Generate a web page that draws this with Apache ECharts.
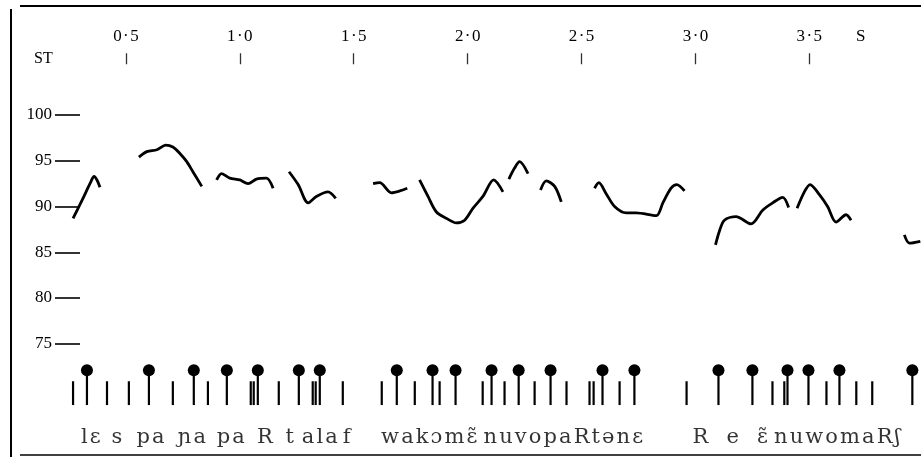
<!DOCTYPE html>
<html>
<head>
<meta charset="utf-8">
<script src="https://cdn.jsdelivr.net/npm/echarts@6.0.0/dist/echarts.min.js"></script>
<style>
  html, body { margin: 0; padding: 0; background: #fff; }
  #chart { width: 921px; height: 459px; }
</style>
</head>
<body>
<div id="chart"></div>
<script>
// pitch contour in semitones (ST) against time (s)
var timeTicks = [0.5, 1.0, 1.5, 2.0, 2.5, 3.0, 3.5];
var stTicks = [75, 80, 85, 90, 95, 100];

// contour pieces, [time, ST]
var seg1 = [[0.268, 88.7], [0.298, 90.2], [0.325, 91.6], [0.346, 92.7], [0.360, 93.3], [0.373, 92.9], [0.386, 92.1]];
var seg2 = [[0.557, 95.4], [0.592, 96.0], [0.636, 96.2], [0.675, 96.7], [0.706, 96.5], [0.737, 95.8], [0.767, 94.9], [0.794, 93.8], [0.833, 92.2]];
var seg3 = [[0.898, 92.9], [0.920, 93.6], [0.956, 93.1], [1.000, 92.9], [1.036, 92.5], [1.073, 93.0], [1.117, 93.1], [1.146, 92.0]];
var seg4 = [[1.216, 93.8], [1.256, 92.4], [1.300, 90.4], [1.336, 91.1], [1.387, 91.6], [1.421, 90.9]];
var seg5 = [[1.585, 92.5], [1.614, 92.6], [1.665, 91.5], [1.702, 91.7], [1.735, 92.0]];
var seg6 = [[1.789, 92.9], [1.826, 91.1], [1.863, 89.4], [1.907, 88.7], [1.950, 88.2], [1.987, 88.5], [2.023, 89.8], [2.067, 91.1], [2.114, 92.9], [2.155, 91.6]];
var seg7 = [[2.181, 93.0], [2.206, 94.2], [2.228, 94.9], [2.265, 93.6]];
var seg8 = [[2.320, 91.8], [2.345, 92.8], [2.382, 92.2], [2.411, 90.5]];
var seg9 = [[2.557, 92.0], [2.576, 92.6], [2.608, 91.4], [2.645, 90.0], [2.696, 89.3], [2.740, 89.3], [2.828, 89.0], [2.857, 90.4], [2.893, 92.0], [2.918, 92.4], [2.952, 91.7]];
var seg10 = [[3.088, 85.8], [3.105, 87.3], [3.127, 88.5], [3.178, 88.9], [3.244, 88.1], [3.295, 89.6], [3.339, 90.4], [3.383, 91.0], [3.409, 89.9]];
var seg11 = [[3.446, 89.8], [3.478, 91.6], [3.503, 92.4], [3.544, 91.3], [3.580, 90.0], [3.617, 88.3], [3.661, 89.1], [3.683, 88.5]];
var seg12 = [[3.917, 86.9], [3.939, 86.0], [3.987, 86.2]];

// segmentation marks: plain bars and bars with a dot
var barTimes = [0.268, 0.417, 0.513, 0.706, 0.860, 1.048, 1.061, 1.171, 1.320, 1.333, 1.452, 1.623, 1.768, 1.877,
  2.066, 2.162, 2.294, 2.434, 2.535, 2.553, 2.667, 2.961, 3.338, 3.390, 3.575, 3.706, 3.776];
var dotTimes = [0.329, 0.601, 0.798, 0.943, 1.079, 1.259, 1.351, 1.689, 1.846, 1.947,
  2.105, 2.224, 2.364, 2.592, 2.732, 3.101, 3.250, 3.404, 3.496, 3.632, 3.952];

// phonetic transcription, [time, text]
var phonetics = [[0.303, 'lɛ s'], [0.546, 'pa'], [0.728, 'ɲa pa'], [1.075, 'R'], [1.200, 't'], [1.272, 'ala'], [1.452, 'f'],
  [1.620, 'wakɔmɛ̃'], [2.070, 'nuvopaRtənɛ'],
  [2.987, 'R'], [3.136, 'e'], [3.270, 'ɛ̃'], [3.345, 'nuwomaRʃ']];

var BAR_BASE = 68.3, BAR_TOP = 70.9, DOT_LEVEL = 72.1, TEXT_LEVEL = 64.8;
var serif = "'Liberation Serif', 'DejaVu Serif', serif";
var ipaFont = "'DejaVu Serif', 'Liberation Serif', serif";

function spaced(s) {
  var out = '';
  Array.from(s).forEach(function (ch, i) {
    if (i > 0 && !/[\u0300-\u036f]/.test(ch)) out += '\u200a';
    out += ch;
  });
  return out;
}

function stemSeries(times, topLevel) {
  return {
    type: 'custom',
    silent: true,
    data: times.map(function (t) { return [t, topLevel]; }),
    renderItem: function (params, api) {
      var p1 = api.coord([api.value(0), topLevel]);
      var p2 = api.coord([api.value(0), BAR_BASE]);
      return {
        type: 'line',
        shape: { x1: p1[0], y1: p1[1], x2: p2[0], y2: p2[1] },
        style: { stroke: '#000', lineWidth: 2.2 }
      };
    }
  };
}

var series = [seg1, seg2, seg3, seg4, seg5, seg6, seg7, seg8, seg9, seg10, seg11, seg12].map(function (seg) {
  return {
    type: 'line',
    data: seg,
    symbol: 'none',
    smooth: 0.3,
    lineStyle: { color: '#000', width: 2.8 }
  };
});

series.push(stemSeries(barTimes, BAR_TOP));
series.push(stemSeries(dotTimes, DOT_LEVEL));
series.push({
  type: 'scatter',
  data: dotTimes.map(function (t) { return [t, DOT_LEVEL]; }),
  symbolSize: 12,
  itemStyle: { color: '#000', opacity: 1 }
});
series.push({
  type: 'scatter',
  data: phonetics.map(function (p) { return { value: [p[0], TEXT_LEVEL], name: p[1] }; }),
  symbolSize: 0,
  label: {
    show: true,
    position: 'right',
    distance: 0,
    formatter: function (p) { return spaced(p.name); },
    fontFamily: ipaFont,
    fontSize: 21,
    color: '#000'
  }
});

var chart = echarts.init(document.getElementById('chart'), null, { renderer: 'canvas' });

chart.setOption({
  backgroundColor: '#fff',
  animation: false,
  grid: { left: 12, right: 0, top: 69.25, bottom: 5.45 },
  xAxis: {
    type: 'value',
    position: 'top',
    offset: 5,
    min: 0,
    max: 3.99,
    axisLine: { show: false },
    splitLine: { show: false },
    axisTick: { customValues: timeTicks, length: 11, lineStyle: { color: '#333', width: 1.3 } },
    axisLabel: {
      customValues: timeTicks,
      margin: 19,
      fontFamily: serif,
      fontSize: 17,
      color: '#000',
      formatter: function (v) { return v.toFixed(1).replace('.', '\u200a·\u200a'); }
    }
  },
  yAxis: {
    type: 'value',
    min: 63,
    max: 105,
    offset: -68,
    axisLine: { show: false },
    splitLine: { show: false },
    axisTick: { customValues: stTicks, length: 25, lineStyle: { color: '#000', width: 1.6 } },
    axisLabel: { customValues: stTicks, margin: 28, fontFamily: serif, fontSize: 17, color: '#000' }
  },
  graphic: [
    { type: 'line', shape: { x1: 11, y1: 9, x2: 11, y2: 457 }, style: { stroke: '#000', lineWidth: 2 } },
    { type: 'line', shape: { x1: 20, y1: 6, x2: 921, y2: 6 }, style: { stroke: '#000', lineWidth: 2 } },
    { type: 'line', shape: { x1: 20, y1: 455, x2: 921, y2: 455 }, style: { stroke: '#000', lineWidth: 1.5 } },
    { type: 'text', left: 34, top: 51, style: { text: 'ST', font: '16px ' + serif, fill: '#000' } },
    { type: 'text', left: 856, top: 28, style: { text: 'S', font: '17px ' + serif, fill: '#000' } }
  ],
  series: series
});
</script>
</body>
</html>
